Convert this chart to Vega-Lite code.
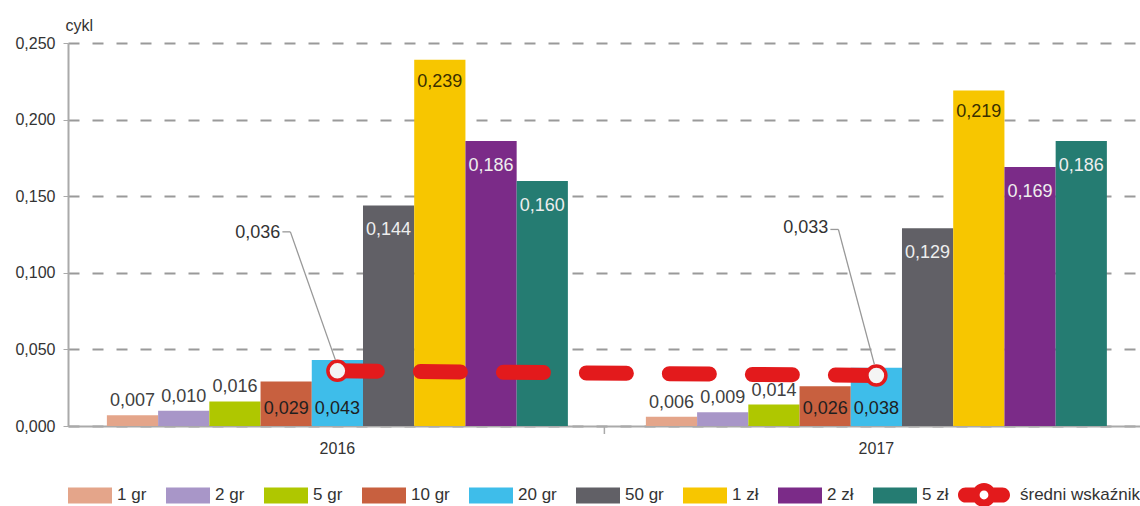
{
  "$schema": "https://vega.github.io/schema/vega-lite/v6.json",
  "width": 1072,
  "height": 383,
  "autosize": "none",
  "padding": {"left": 68, "top": 43, "right": 0, "bottom": 80},
  "background": "white",
  "config": {
    "font": "Liberation Sans",
    "view": {"stroke": null},
    "locale": {"number": {"decimal": ",", "thousands": " ", "grouping": [3], "currency": ["", " zł"]}}
  },
  "datasets": {
    "bars": [
      {"year": "2016", "series": "1 gr", "value": 0.007},
      {"year": "2016", "series": "2 gr", "value": 0.010},
      {"year": "2016", "series": "5 gr", "value": 0.016},
      {"year": "2016", "series": "10 gr", "value": 0.029},
      {"year": "2016", "series": "20 gr", "value": 0.043},
      {"year": "2016", "series": "50 gr", "value": 0.144},
      {"year": "2016", "series": "1 zł", "value": 0.239},
      {"year": "2016", "series": "2 zł", "value": 0.186},
      {"year": "2016", "series": "5 zł", "value": 0.160},
      {"year": "2017", "series": "1 gr", "value": 0.006},
      {"year": "2017", "series": "2 gr", "value": 0.009},
      {"year": "2017", "series": "5 gr", "value": 0.014},
      {"year": "2017", "series": "10 gr", "value": 0.026},
      {"year": "2017", "series": "20 gr", "value": 0.038},
      {"year": "2017", "series": "50 gr", "value": 0.129},
      {"year": "2017", "series": "1 zł", "value": 0.219},
      {"year": "2017", "series": "2 zł", "value": 0.169},
      {"year": "2017", "series": "5 zł", "value": 0.186}
    ],
    "avg": [
      {"year": "2016", "value": 0.036},
      {"year": "2017", "value": 0.033}
    ]
  },
  "layer": [
    {
      "data": {"name": "bars"},
      "mark": {"type": "bar"},
      "encoding": {
        "x": {
          "field": "year", "type": "nominal",
          "scale": {"paddingInner": 0.1447, "paddingOuter": 0.0668, "align": 0.54},
          "axis": {"title": null, "labelAngle": 0, "labelFontSize": 16, "labelColor": "#333", "ticks": false, "labelPadding": 14, "domainColor": "#aaa", "domainWidth": 2, "grid": false}
        },
        "xOffset": {
          "field": "series", "type": "nominal",
          "scale": {"domain": ["1 gr", "2 gr", "5 gr", "10 gr", "20 gr", "50 gr", "1 zł", "2 zł", "5 zł"], "paddingInner": 0, "paddingOuter": 0}
        },
        "y": {
          "field": "value", "type": "quantitative",
          "scale": {"domain": [0, 0.25], "nice": false},
          "axis": {"title": "cykl", "titleAngle": 0, "titleAlign": "left", "titleBaseline": "alphabetic", "titleX": -3, "titleY": -13, "titleFontSize": 16, "titleFontWeight": "normal", "titleColor": "#333", "values": [0, 0.05, 0.1, 0.15, 0.2, 0.25], "format": ".3f", "labelFontSize": 16, "labelColor": "#333", "labelPadding": 8, "tickSize": 5, "tickColor": "#aaa", "domainColor": "#aaa", "domainWidth": 2, "grid": true, "gridDash": [11, 13], "gridColor": "#9a9a9a", "gridWidth": 2}
        },
        "color": {
          "field": "series", "type": "nominal",
          "scale": {
            "domain": ["1 gr", "2 gr", "5 gr", "10 gr", "20 gr", "50 gr", "1 zł", "2 zł", "5 zł"],
            "range": ["#e4a58a", "#a896c8", "#afc700", "#c8603f", "#3ebdea", "#616066", "#f7c600", "#7b2b88", "#257c72"]
          },
          "legend": {
            "orient": "none", "legendX": 0, "legendY": 430, "direction": "horizontal", "columns": 9,
            "title": null, "padding": 0,
            "symbolType": "M-1,-0.364H1V0.364H-1Z", "symbolSize": 1936, "symbolStrokeWidth": 0, "symbolOpacity": 1,
            "labelFontSize": 17, "labelColor": "#333", "labelOffset": 5, "columnPadding": 19, "labelLimit": 200
          }
        }
      }
    },
    {
      "data": {"name": "avg"},
      "transform": [{"filter": "datum.year == '2017'"}],
      "mark": {"type": "rule", "color": "#aaa", "strokeWidth": 1.5, "y2Offset": 8},
      "encoding": {
        "x": {"field": "year", "type": "nominal", "bandPosition": -0.09},
        "y": {"datum": 0, "type": "quantitative"},
        "y2": {"datum": 0}
      }
    },
    {
      "data": {"name": "bars"},
      "transform": [{"filter": {"field": "series", "oneOf": ["1 gr", "2 gr", "5 gr"]}}],
      "mark": {"type": "text", "baseline": "middle", "dy": -14, "fontSize": 18, "color": "#404040"},
      "encoding": {
        "x": {"field": "year", "type": "nominal"},
        "xOffset": {"field": "series", "type": "nominal"},
        "y": {"field": "value", "type": "quantitative"},
        "text": {"field": "value", "type": "quantitative", "format": ".3f"}
      }
    },
    {
      "data": {"name": "bars"},
      "transform": [{"filter": {"field": "series", "oneOf": ["10 gr", "20 gr"]}}],
      "mark": {"type": "text", "baseline": "middle", "dy": -17, "fontSize": 18, "color": "#1f1f1f"},
      "encoding": {
        "x": {"field": "year", "type": "nominal"},
        "xOffset": {"field": "series", "type": "nominal"},
        "y": {"datum": 0, "type": "quantitative"},
        "text": {"field": "value", "type": "quantitative", "format": ".3f"}
      }
    },
    {
      "data": {"name": "bars"},
      "transform": [{"filter": {"field": "series", "oneOf": ["1 zł"]}}],
      "mark": {"type": "text", "baseline": "middle", "dy": 22, "fontSize": 18, "color": "#3a3000"},
      "encoding": {
        "x": {"field": "year", "type": "nominal"},
        "xOffset": {"field": "series", "type": "nominal"},
        "y": {"field": "value", "type": "quantitative"},
        "text": {"field": "value", "type": "quantitative", "format": ".3f"}
      }
    },
    {
      "data": {"name": "bars"},
      "transform": [{"filter": {"field": "series", "oneOf": ["50 gr", "2 zł", "5 zł"]}}],
      "mark": {"type": "text", "baseline": "middle", "dy": 25, "fontSize": 18, "color": "#eeeeee"},
      "encoding": {
        "x": {"field": "year", "type": "nominal"},
        "xOffset": {"field": "series", "type": "nominal"},
        "y": {"field": "value", "type": "quantitative"},
        "text": {"field": "value", "type": "quantitative", "format": ".3f"}
      }
    },
    {
      "data": {"name": "avg"},
      "mark": {"type": "line", "color": "#e31a1c", "strokeWidth": 15, "strokeCap": "round"},
      "encoding": {
        "x": {"field": "year", "type": "nominal"},
        "y": {"field": "value", "type": "quantitative"},
        "strokeDash": {
          "datum": "średni wskaźnik", "type": "nominal",
          "scale": {"domain": ["średni wskaźnik"], "range": [[40, 43]]},
          "legend": {
            "orient": "none", "legendX": 890, "legendY": 426, "title": null, "padding": 0,
            "symbolType": "M-0.71,-0.29H0.71A0.29,0.29 0 0 1 0.71,0.29H-0.71A0.29,0.29 0 0 1 -0.71,-0.29ZM0.46,0A0.46,0.46 0 1 1 -0.46,0A0.46,0.46 0 1 1 0.46,0ZM0.17,0A0.17,0.17 0 1 0 -0.17,0A0.17,0.17 0 1 0 0.17,0ZM0.17,0A0.17,0.17 0 1 0 -0.17,0A0.17,0.17 0 1 0 0.17,0Z",
            "symbolSize": 2704, "symbolFillColor": "#e31a1c", "symbolStrokeWidth": 0,
            "labelFontSize": 17, "labelColor": "#333", "labelOffset": 10, "labelLimit": 200,
            "encode": {"symbols": {"update": {"fill": {"value": "#e31a1c"}, "stroke": {"value": "transparent"}, "strokeWidth": {"value": 0}, "opacity": {"value": 1}}}}
          }
        }
      }
    },
    {
      "data": {"name": "avg"},
      "mark": {"type": "point", "shape": "circle", "filled": true, "fill": "#f4f4f4", "stroke": "#e31a1c", "strokeWidth": 3.5, "size": 360, "opacity": 1},
      "encoding": {
        "x": {"field": "year", "type": "nominal"},
        "y": {"field": "value", "type": "quantitative"}
      }
    },
    {
      "data": {"name": "avg"},
      "transform": [{"filter": "datum.year == '2016'"}],
      "mark": {"type": "rule", "color": "#999", "strokeWidth": 1.3, "xOffset": -2, "yOffset": -11, "x2Offset": -47, "y2Offset": -139},
      "encoding": {
        "x": {"field": "year", "type": "nominal", "bandPosition": 0.5},
        "x2": {"field": "year", "bandPosition": 0.5},
        "y": {"field": "value", "type": "quantitative"},
        "y2": {"field": "value"}
      }
    },
    {
      "data": {"name": "avg"},
      "transform": [{"filter": "datum.year == '2016'"}],
      "mark": {"type": "rule", "color": "#999", "strokeWidth": 1.3, "xOffset": -47, "yOffset": -139, "x2Offset": -55, "y2Offset": -139},
      "encoding": {
        "x": {"field": "year", "type": "nominal", "bandPosition": 0.5},
        "x2": {"field": "year", "bandPosition": 0.5},
        "y": {"field": "value", "type": "quantitative"},
        "y2": {"field": "value"}
      }
    },
    {
      "data": {"name": "avg"},
      "transform": [{"filter": "datum.year == '2016'"}],
      "mark": {"type": "text", "align": "right", "baseline": "middle", "dx": -57, "dy": -138, "fontSize": 18, "color": "#333"},
      "encoding": {
        "x": {"field": "year", "type": "nominal"},
        "y": {"field": "value", "type": "quantitative"},
        "text": {"field": "value", "type": "quantitative", "format": ".3f"}
      }
    },
    {
      "data": {"name": "avg"},
      "transform": [{"filter": "datum.year == '2017'"}],
      "mark": {"type": "rule", "color": "#999", "strokeWidth": 1.3, "xOffset": -2, "yOffset": -11, "x2Offset": -38, "y2Offset": -146},
      "encoding": {
        "x": {"field": "year", "type": "nominal", "bandPosition": 0.5},
        "x2": {"field": "year", "bandPosition": 0.5},
        "y": {"field": "value", "type": "quantitative"},
        "y2": {"field": "value"}
      }
    },
    {
      "data": {"name": "avg"},
      "transform": [{"filter": "datum.year == '2017'"}],
      "mark": {"type": "rule", "color": "#999", "strokeWidth": 1.3, "xOffset": -38, "yOffset": -146, "x2Offset": -46, "y2Offset": -146},
      "encoding": {
        "x": {"field": "year", "type": "nominal", "bandPosition": 0.5},
        "x2": {"field": "year", "bandPosition": 0.5},
        "y": {"field": "value", "type": "quantitative"},
        "y2": {"field": "value"}
      }
    },
    {
      "data": {"name": "avg"},
      "transform": [{"filter": "datum.year == '2017'"}],
      "mark": {"type": "text", "align": "right", "baseline": "middle", "dx": -48, "dy": -147, "fontSize": 18, "color": "#333"},
      "encoding": {
        "x": {"field": "year", "type": "nominal"},
        "y": {"field": "value", "type": "quantitative"},
        "text": {"field": "value", "type": "quantitative", "format": ".3f"}
      }
    }
  ]
}
